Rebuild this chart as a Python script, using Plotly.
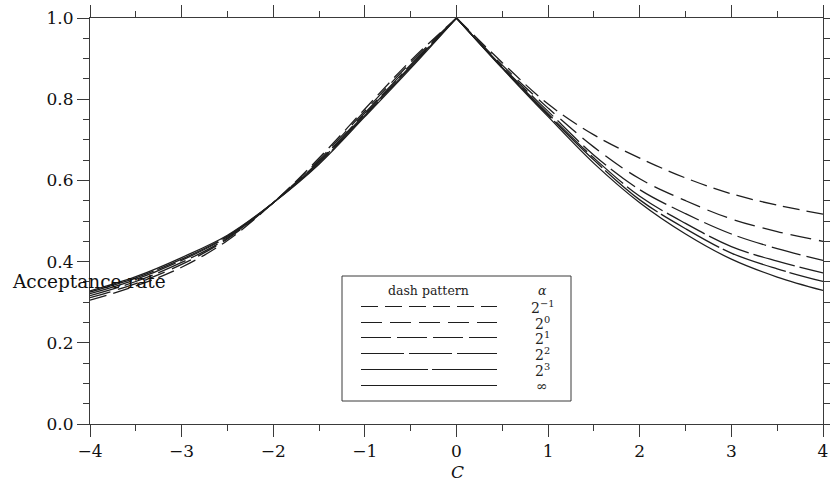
import plotly.graph_objects as go

# ---- data ----
C = [-4, -3.5, -3, -2.5, -2, -1.5, -1, -0.5, 0, 0.5, 1, 1.5, 2, 2.5, 3, 3.5, 4]

rate_a_half = [0.305, 0.340, 0.386, 0.452, 0.545, 0.655, 0.776, 0.895, 1.0,
               0.890, 0.788, 0.712, 0.655, 0.606, 0.567, 0.539, 0.517]
rate_a_1 = [0.311, 0.346, 0.393, 0.456, 0.545, 0.651, 0.771, 0.890, 1.0,
            0.884, 0.778, 0.682, 0.604, 0.550, 0.505, 0.474, 0.450]
rate_a_2 = [0.316, 0.351, 0.398, 0.458, 0.545, 0.647, 0.766, 0.885, 1.0,
            0.880, 0.770, 0.662, 0.577, 0.518, 0.468, 0.432, 0.403]
rate_a_4 = [0.321, 0.356, 0.403, 0.461, 0.545, 0.645, 0.763, 0.882, 1.0,
            0.878, 0.764, 0.655, 0.561, 0.494, 0.437, 0.401, 0.372]
rate_a_8 = [0.325, 0.360, 0.406, 0.463, 0.545, 0.642, 0.760, 0.879, 1.0,
            0.877, 0.761, 0.650, 0.552, 0.481, 0.421, 0.382, 0.351]
rate_a_inf = [0.328, 0.363, 0.410, 0.465, 0.545, 0.640, 0.757, 0.876, 1.0,
              0.876, 0.757, 0.642, 0.545, 0.468, 0.406, 0.362, 0.329]

series = [rate_a_half, rate_a_1, rate_a_2, rate_a_4, rate_a_8, rate_a_inf]
alpha_labels = ["2<sup>\u22121</sup>", "2<sup>0</sup>", "2<sup>1</sup>",
                "2<sup>2</sup>", "2<sup>3</sup>", "\u221e"]

x_ticks = [-4, -3, -2, -1, 0, 1, 2, 3, 4]
y_ticks = [0.0, 0.2, 0.4, 0.6, 0.8, 1.0]

# ---- style ----
dashes = ["17px,7px", "21px,8px", "30px,6px", "43px,5px", "67px,4px", "solid"]
LINE_COLOR = "#1e1e1e"
AXIS_COLOR = "#3a3a3a"
FONT = "DejaVu Serif"

fig = go.Figure()
mid = C.index(0)
for vals, dash in zip(series, dashes):
    for xs, ys in ((C[:mid + 1], vals[:mid + 1]), (C[mid:], vals[mid:])):
        fig.add_trace(go.Scatter(
            x=xs, y=ys, mode="lines", showlegend=False, hoverinfo="skip",
            line=dict(color=LINE_COLOR, width=1.3, dash=dash, shape="spline", smoothing=1.0),
        ))

W, H = 830, 493
L, R, T, B = 90, 7, 18, 69
pw, ph = W - L - R, H - T - B


def px(xp):
    return (xp - L) / pw


def py(yp):
    return (H - B - yp) / ph


shapes = []
annotations = []


def text(s, x, y, size, color="#222"):
    annotations.append(dict(text=s, xref="paper", yref="paper", x=px(x), y=py(y),
                            xanchor="center", yanchor="middle", showarrow=False,
                            font=dict(family=FONT, size=size, color=color)))


# custom legend box
shapes.append(dict(type="rect", xref="paper", yref="paper",
                   x0=px(342), x1=px(571), y0=py(401), y1=py(276),
                   line=dict(color=AXIS_COLOR, width=1), fillcolor="white", layer="above"))
text("dash pattern", 428, 290, 12.5)
text("<i>\u03b1</i>", 542, 290, 12.5)
row_y = [306.5, 322.5, 337.5, 353.5, 369.5, 385.5]
for ry, dash, lab in zip(row_y, dashes, alpha_labels):
    shapes.append(dict(type="line", xref="paper", yref="paper",
                       x0=px(361), x1=px(497), y0=py(ry), y1=py(ry),
                       line=dict(color=LINE_COLOR, width=1, dash=dash), layer="above"))
    text(lab, 542, ry, 14)

text("Acceptance rate", 89, 281, 18.5, "#111")
text("<i>C</i>", 457, 472, 17, "#111")

axis_common = dict(showline=True, linecolor=AXIS_COLOR, linewidth=1, mirror="allticks",
                   ticks="outside", ticklen=12, tickwidth=1, tickcolor=AXIS_COLOR,
                   showgrid=False, zeroline=False, automargin=False,
                   tickfont=dict(family=FONT, size=17, color="#111"))

fig.update_layout(
    width=W, height=H,
    margin=dict(l=L, r=R, t=T, b=B, autoexpand=False),
    paper_bgcolor="white", plot_bgcolor="white",
    xaxis=dict(range=[-4, 4], tickvals=x_ticks,
               minor=dict(dtick=0.5, ticklen=6, ticks="outside", tickcolor=AXIS_COLOR, showgrid=False),
               **axis_common),
    yaxis=dict(range=[0, 1], tickvals=y_ticks, tickformat=".1f",
               minor=dict(dtick=0.05, ticklen=6, ticks="outside", tickcolor=AXIS_COLOR, showgrid=False),
               **axis_common),
    shapes=shapes, annotations=annotations,
)

fig.write_html("out.html")
